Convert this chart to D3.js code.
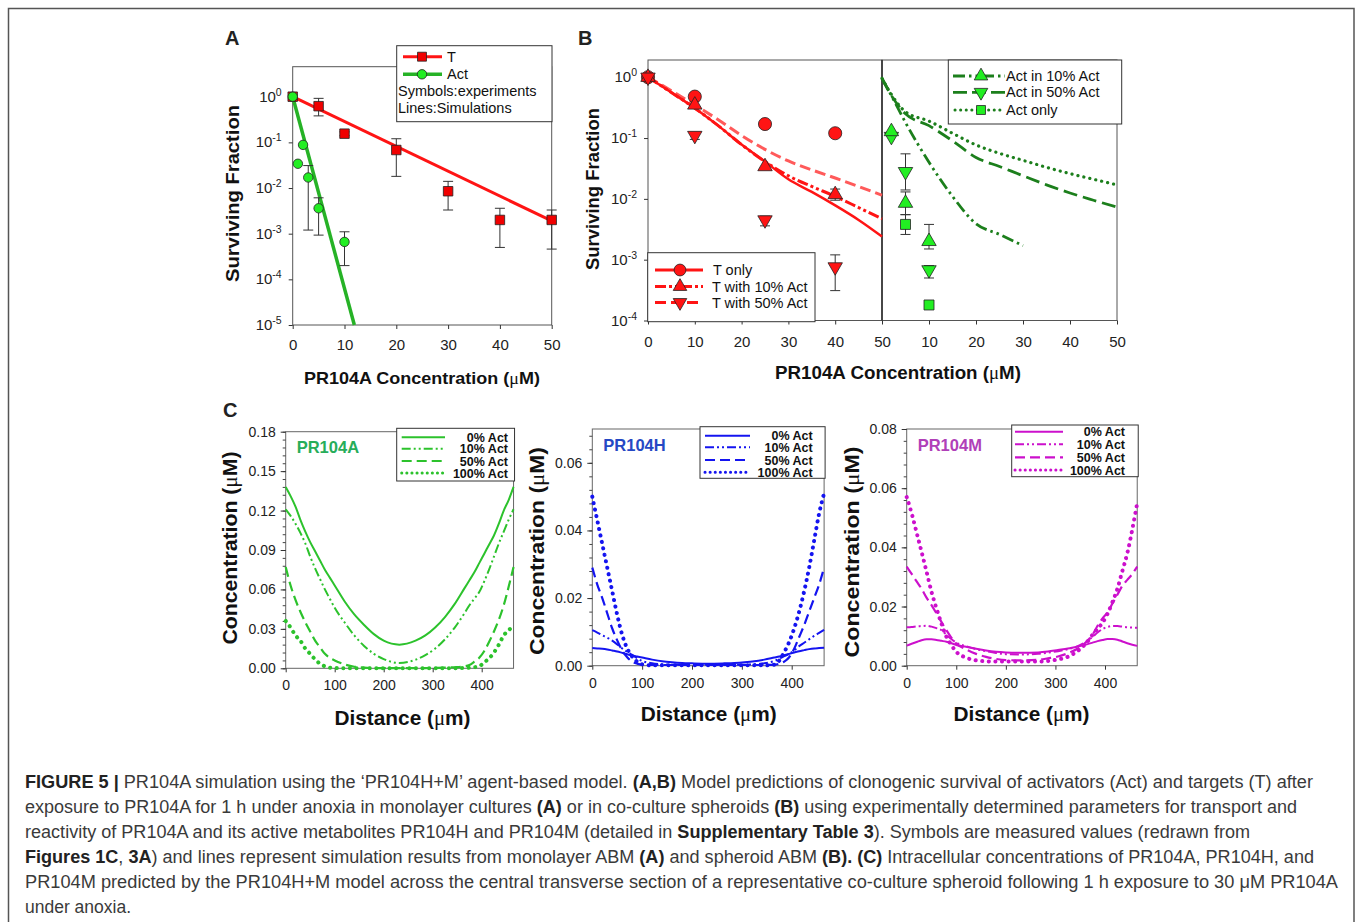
<!DOCTYPE html>
<html>
<head>
<meta charset="utf-8">
<script src="https://cdn.jsdelivr.net/npm/d3@7"></script>
<style>
  body { margin: 0; background: #fff; }
  text { font-family: Arial, "Liberation Sans", sans-serif; }
</style>
</head>
<body>
<svg id="fig" width="1357" height="922"></svg>
<script>
// ---- data: panel A (monolayer) ----
var aTDose = [0, 5, 10, 20, 30, 40, 50];
var aTSurv = [1, 0.62, 0.155, 0.068, 0.0085, 0.002, 0.002];
var aTLow = [null, 0.38, 0.14, 0.018, 0.0033, 0.0005, 0.00046];
var aTHigh = [null, 0.92, 0.17, 0.12, 0.014, 0.0036, 0.0033];
var aActDose = [0, 1, 2, 3, 5, 10];
var aActSurv = [1, 0.034, 0.088, 0.017, 0.0036, 0.00066];
var aActLow = [null, null, null, 0.0012, 0.00093, 0.0002];
var aActHigh = [null, null, null, 0.031, 0.0061, 0.0011];
var aSimTDose = [0, 50], aSimTSurv = [1, 0.0019];
var aSimActDose = [0, 11.9], aSimActSurv = [1, 1e-5];

// ---- data: panel B (spheroids), targets ----
var bDose = [0, 10, 25, 40];
var bTonly = [1, 0.48, 0.17, 0.12];
var bT10 = [1, 0.35, 0.034, 0.0118];
var bT10Low = [null, null, null, 0.0095];
var bT10High = [null, null, null, 0.0145];
var bT50 = [1, 0.11, 0.0045, 0.00076];
var bT50Low = [null, 0.095, 0.0036, 0.00031];
var bT50High = [null, 0.12, 0.0052, 0.0012];
var bSimDose = [0, 5, 10, 15, 20, 25, 30, 35, 40, 45, 50];
var bSimTonly = [1, 0.56, 0.31, 0.16, 0.078, 0.041, 0.021, 0.013, 0.0078, 0.0045, 0.0024];
var bSimT10 = [1, 0.56, 0.31, 0.16, 0.078, 0.041, 0.024, 0.016, 0.011, 0.0072, 0.0047];
var bSimT50 = [1, 0.6, 0.35, 0.2, 0.11, 0.065, 0.042, 0.03, 0.022, 0.016, 0.0115];

// ---- data: panel B, activators ----
var bActDose = [2, 5, 10];
var bAct10 = [0.128, 0.0085, 0.002];
var bAct10Low = [null, 0.0055, 0.0015];
var bAct10High = [null, 0.013, 0.0038];
var bAct50 = [0.106, 0.028, 0.00068];
var bAct50Low = [null, 0.014, 0.0005];
var bAct50High = [null, 0.055, 0.0008];
var bActOnlyDose = [5, 10];
var bActOnly = [0.0038, 0.00018];
var bActOnlyLow = [0.0026, null];
var bActOnlyHigh = [0.0055, null];
var bSimActDose = [0, 2, 5, 10, 15, 20, 25, 30, 35, 40, 45, 50];
var bSimAct10 = [0.96, 0.5, 0.18, 0.04, 0.011, 0.0039, 0.0026, 0.0017];
var bSimAct50 = [0.96, 0.5, 0.25, 0.16, 0.09, 0.048, 0.034, 0.024, 0.017, 0.0125, 0.0095, 0.0073];
var bSimActOnly = [0.96, 0.52, 0.27, 0.19, 0.12, 0.077, 0.056, 0.043, 0.033, 0.026, 0.021, 0.017];

// ---- data: panel C (concentration profiles) ----
var distC = [0, 10, 20, 30, 40, 50, 60, 70, 80, 90, 100, 120, 140, 160, 180, 200, 232,
             265, 285, 305, 325, 345, 365, 375, 385, 395, 405, 415, 425, 435, 445, 455, 465];
var cA0 = [0.138,0.131,0.123,0.113,0.104,0.096,0.089,0.082,0.075,0.069,0.063,0.051,0.041,0.033,0.026,0.021,0.018,
           0.021,0.025,0.031,0.039,0.049,0.061,0.067,0.073,0.080,0.087,0.094,0.101,0.110,0.120,0.128,0.138];
var cA10 = [0.121,0.116,0.110,0.103,0.095,0.085,0.076,0.068,0.060,0.053,0.046,0.035,0.025,0.017,0.011,0.007,0.004,
            0.0065,0.010,0.015,0.022,0.031,0.042,0.048,0.053,0.058,0.066,0.075,0.085,0.095,0.104,0.113,0.121];
var cA50 = [0.077,0.063,0.052,0.043,0.035,0.028,0.021,0.016,0.011,0.008,0.006,0.003,0.0012,0.0005,0.0002,0.0001,0.0001,
            0.0001,0.0002,0.0003,0.0005,0.0008,0.0015,0.0025,0.005,0.008,0.013,0.020,0.028,0.037,0.048,0.062,0.077];
var cA100 = [0.036,0.031,0.025,0.021,0.015,0.011,0.0068,0.0035,0.0015,0.0005,0.0002,0.0001,0.0001,0.0001,0.0001,0.0001,0.0001,
             0.0001,0.0001,0.0001,0.0001,0.0001,0.0002,0.0004,0.0008,0.0015,0.0045,0.0075,0.012,0.018,0.025,0.029,0.032];
var cH0 = [0.0052,0.0051,0.0050,0.0048,0.0045,0.0042,0.0038,0.0034,0.0030,0.0027,0.0024,0.0018,0.0013,0.0010,0.0008,0.0007,0.0006,
           0.0007,0.0008,0.0010,0.0013,0.0018,0.0024,0.0027,0.0031,0.0035,0.0039,0.0043,0.0046,0.0049,0.0051,0.0052,0.0053];
var cH10 = [0.0105,0.0098,0.0090,0.0083,0.0074,0.0063,0.0051,0.0041,0.0032,0.0022,0.0014,0.0007,0.0004,0.0003,0.0003,0.0003,0.0003,
            0.0003,0.0003,0.0003,0.0004,0.0007,0.0014,0.0020,0.0028,0.0035,0.0045,0.0058,0.0068,0.0078,0.0088,0.0097,0.0106];
var cH50 = [0.029,0.024,0.020,0.0155,0.011,0.0075,0.0045,0.0025,0.0012,0.0006,0.0003,0.0002,0.0002,0.0002,0.0002,0.0002,0.0002,
            0.0002,0.0002,0.0002,0.0002,0.0002,0.0003,0.0006,0.0012,0.0025,0.0050,0.0085,0.012,0.016,0.020,0.024,0.029];
var cH100 = [0.050,0.043,0.036,0.029,0.022,0.015,0.0091,0.0051,0.0027,0.0012,0.0004,0.0001,0.0001,0.0001,0.0001,0.0001,0.0001,
             0.0001,0.0001,0.0001,0.0001,0.0001,0.0003,0.0015,0.004,0.007,0.011,0.016,0.022,0.029,0.037,0.045,0.051];
var cM0 = [0.0068,0.0074,0.0080,0.0086,0.0089,0.0089,0.0087,0.0084,0.0081,0.0076,0.0070,0.0064,0.0057,0.0051,0.0047,0.0045,0.0044,
           0.0045,0.0048,0.0053,0.0058,0.0065,0.0073,0.0078,0.0083,0.0087,0.0090,0.0090,0.0088,0.0082,0.0076,0.0071,0.0067];
var cM10 = [0.0130,0.0131,0.0133,0.0134,0.0135,0.0132,0.0127,0.0120,0.0105,0.0090,0.0078,0.0066,0.0056,0.0049,0.0043,0.0039,0.0038,
            0.0040,0.0044,0.0049,0.0056,0.0066,0.0085,0.0097,0.0112,0.0124,0.0131,0.0134,0.0134,0.0132,0.0130,0.0129,0.0128];
var cM50 = [0.0335,0.031,0.0285,0.026,0.023,0.0205,0.0177,0.0148,0.012,0.0095,0.0075,0.0055,0.004,0.003,0.0023,0.0019,0.0018,
            0.002,0.0025,0.0031,0.0042,0.0058,0.0085,0.0105,0.0135,0.016,0.018,0.021,0.024,0.027,0.029,0.031,0.0335];
var cM100 = [0.057,0.0515,0.045,0.0385,0.0318,0.025,0.0194,0.0143,0.0098,0.007,0.0047,0.0027,0.0018,0.0015,0.0014,0.0014,0.0014,
             0.0014,0.0016,0.0021,0.003,0.005,0.0082,0.0105,0.0125,0.0145,0.0175,0.0215,0.026,0.032,0.038,0.046,0.055];

// ---- tick labels / legends ----
var logTicksA = [1, 1e-1, 1e-2, 1e-3, 1e-4, 1e-5];
var logTicksB = [1, 1e-1, 1e-2, 1e-3, 1e-4];
var doseTicks = [0, 10, 20, 30, 40, 50];
var doseTicksRight = [10, 20, 30, 40, 50];
var distTicks = [0, 100, 200, 300, 400];
var concTicksA = [0, 0.03, 0.06, 0.09, 0.12, 0.15, 0.18];
var concTicksH = [0, 0.02, 0.04, 0.06];
var concTicksM = [0, 0.02, 0.04, 0.06, 0.08];
var cLegend = ["0% Act", "10% Act", "50% Act", "100% Act"];

var svg = d3.select("#fig");

// outer figure border
svg.append("rect").attr("x", 8.5).attr("y", 8.5).attr("width", 1345.5).attr("height", 940)
  .attr("fill", "none").attr("stroke", "#555").attr("stroke-width", 1.5);

// ---------- helpers ----------
function frame(x0, y0, x1, y1, col) {
  svg.append("rect").attr("x", x0).attr("y", y0).attr("width", x1 - x0).attr("height", y1 - y0)
    .attr("fill", "none").attr("stroke", col || "#555").attr("stroke-width", 1);
}

function drawLine(xs, ys, x, y, s) {
  svg.append("path")
    .datum(d3.zip(xs, ys))
    .attr("d", d3.line().x(function(d) { return x(d[0]); }).y(function(d) { return y(d[1]); })
      .curve(d3.curveMonotoneX))
    .attr("fill", "none")
    .attr("stroke", s.color)
    .attr("stroke-width", s.width)
    .attr("stroke-dasharray", s.dash || null)
    .attr("stroke-linecap", s.cap || "butt");
}

function drawErr(xs, ys, lo, hi, x, y) {
  xs.forEach(function(xv, i) {
    if (lo[i] == null && hi[i] == null) return;
    var l = lo[i] == null ? ys[i] : lo[i];
    var h = hi[i] == null ? ys[i] : hi[i];
    var px = x(xv);
    var g = svg.append("g").attr("stroke", "#333").attr("stroke-width", 1);
    g.append("line").attr("x1", px).attr("x2", px).attr("y1", y(l)).attr("y2", y(h));
    if (lo[i] != null) g.append("line").attr("x1", px - 5).attr("x2", px + 5).attr("y1", y(l)).attr("y2", y(l));
    if (hi[i] != null) g.append("line").attr("x1", px - 5).attr("x2", px + 5).attr("y1", y(h)).attr("y2", y(h));
  });
}

function drawMarkers(xs, ys, x, y, type, size, fill, flip) {
  svg.append("g").selectAll("path")
    .data(d3.zip(xs, ys))
    .enter().append("path")
    .attr("d", d3.symbol().type(type).size(size))
    .attr("transform", function(d) {
      return "translate(" + x(d[0]) + "," + y(d[1]) + ")" + (flip ? " rotate(180)" : "");
    })
    .attr("fill", fill)
    .attr("stroke", "#222")
    .attr("stroke-width", 0.8);
}

function xAxis(x, yPos, vals, pad, size) {
  var g = svg.append("g")
    .attr("transform", "translate(0," + yPos + ")")
    .call(d3.axisBottom(x).tickValues(vals).tickSize(4).tickPadding(pad).tickFormat(d3.format("d")));
  g.select(".domain").remove();
  g.selectAll("line").attr("stroke", "#333");
  g.selectAll("text").attr("font-size", size).attr("fill", "#222").attr("font-family", "Arial, 'Liberation Sans'");
}

function yLogAxis(y, xPos, vals) {
  var g = svg.append("g")
    .attr("transform", "translate(" + xPos + ",0)")
    .call(d3.axisLeft(y).tickValues(vals).tickSize(4).tickFormat(""));
  g.select(".domain").remove();
  g.selectAll("line").attr("stroke", "#333");
  vals.forEach(function(v) {
    var t = svg.append("text").attr("x", xPos - 11).attr("y", y(v) + 5)
      .attr("text-anchor", "end").attr("font-size", 15).attr("fill", "#222");
    t.append("tspan").text("10");
    t.append("tspan").attr("dy", -6).attr("font-size", 10.5).text(Math.round(Math.log10(v)));
  });
}

function yLinAxis(y, xPos, majors, minorStep, fmt) {
  var dom = y.domain();
  var minors = d3.range(0, dom[1] + 1e-9, minorStep);
  var gm = svg.append("g").attr("transform", "translate(" + xPos + ",0)")
    .call(d3.axisLeft(y).tickValues(minors).tickSize(3).tickFormat(""));
  gm.select(".domain").remove();
  gm.selectAll("line").attr("stroke", "#444");
  var g = svg.append("g").attr("transform", "translate(" + xPos + ",0)")
    .call(d3.axisLeft(y).tickValues(majors).tickSize(5).tickPadding(5).tickFormat(fmt));
  g.select(".domain").remove();
  g.selectAll("line").attr("stroke", "#333");
  g.selectAll("text").attr("font-size", 14).attr("fill", "#222").attr("font-family", "Arial, 'Liberation Sans'");
}

function boldText(x, y, str, size, len, rot) {
  var t = svg.append("text")
    .attr("text-anchor", "middle")
    .attr("font-weight", "bold")
    .attr("font-size", size)
    .attr("fill", "#111");
  if (rot) t.attr("transform", "translate(" + x + "," + y + ") rotate(-90)");
  else t.attr("x", x).attr("y", y);
  var parts = str.split("μ");
  t.append("tspan").text(parts[0]);
  if (parts.length > 1) {
    t.append("tspan").attr("font-family", "'Liberation Serif', 'DejaVu Serif', serif").attr("font-weight", "normal").text("μ");
    t.append("tspan").text(parts[1]);
  }
  if (len) t.attr("textLength", len).attr("lengthAdjust", "spacingAndGlyphs");
  return t;
}

function legendBox(x0, y0, x1, y1) {
  svg.append("rect").attr("x", x0).attr("y", y0).attr("width", x1 - x0).attr("height", y1 - y0)
    .attr("fill", "#fff").attr("stroke", "#333").attr("stroke-width", 1);
}

function legendSample(x0, x1, yv, s) {
  svg.append("line").attr("x1", x0).attr("x2", x1).attr("y1", yv).attr("y2", yv)
    .attr("stroke", s.color).attr("stroke-width", s.width)
    .attr("stroke-dasharray", s.dash || null).attr("stroke-linecap", s.cap || "butt");
}

function legendMarker(xv, yv, type, size, fill, flip) {
  svg.append("path").attr("d", d3.symbol().type(type).size(size))
    .attr("transform", "translate(" + xv + "," + yv + ")" + (flip ? " rotate(180)" : ""))
    .attr("fill", fill).attr("stroke", "#222").attr("stroke-width", 0.8);
}

function plainText(x, y, str, size, anchor, weight, fill) {
  return svg.append("text").attr("x", x).attr("y", y).attr("font-size", size)
    .attr("text-anchor", anchor || "start").attr("font-weight", weight || "normal")
    .attr("fill", fill || "#111").text(str);
}

var RED = "#ff1414", RED_LIGHT = "#ff5a5a", LIME = "#22ee22", DKGREEN = "#1c7f1c";

// ================= Panel A =================
var xA = d3.scaleLinear().domain([0, 50]).range([292.7, 551.7]);
var yA = d3.scaleLog().domain([1e-5, 4.54]).range([325, 66.7]);

frame(292.7, 66.7, 551.7, 325);
xAxis(xA, 325, doseTicks, 10, 15);
yLogAxis(yA, 292.7, logTicksA);

drawLine(aSimTDose, aSimTSurv, xA, yA, {color: RED, width: 3});
drawLine(aSimActDose, aSimActSurv, xA, yA, {color: "#26b226", width: 3.5});
drawErr(aTDose, aTSurv, aTLow, aTHigh, xA, yA);
drawErr(aActDose, aActSurv, aActLow, aActHigh, xA, yA);
drawMarkers(aTDose, aTSurv, xA, yA, d3.symbolSquare, 90, "#f00000");
drawMarkers(aActDose, aActSurv, xA, yA, d3.symbolCircle, 70, LIME);

legendBox(396.7, 45.7, 552, 121.7);
legendSample(403, 442, 56.7, {color: RED, width: 3});
legendMarker(422, 56.7, d3.symbolSquare, 80, "#f00000");
legendSample(403, 442, 74.3, {color: "#26b226", width: 3.5});
legendMarker(422, 74.3, d3.symbolCircle, 70, LIME);
plainText(447, 61.5, "T", 14.5);
plainText(447, 79, "Act", 14.5);
plainText(398, 96, "Symbols:experiments", 14.5);
plainText(398, 113, "Lines:Simulations", 14.5);

boldText(231.7, 193.5, "Surviving Fraction", 19, 177, true).attr("dy", 7);
boldText(422, 384, "PR104A Concentration (μM)", 17, 236);
plainText(225, 45, "A", 20, "start", "bold", "#222");

// ================= Panel B =================
var xBL = d3.scaleLinear().domain([0, 50]).range([648, 882]);
var xBR = d3.scaleLinear().domain([0, 50]).range([882, 1117]);
var yB = d3.scaleLog().domain([1e-4, 1.92]).range([320.5, 60]);

frame(648, 60, 882, 320.5);
frame(882, 60, 1117, 320.5);
svg.append("line").attr("x1", 882).attr("x2", 882).attr("y1", 60).attr("y2", 320.5)
  .attr("stroke", "#222").attr("stroke-width", 1.2);
xAxis(xBL, 320.5, doseTicks, 12, 15);
xAxis(xBR, 320.5, doseTicksRight, 12, 15);
yLogAxis(yB, 648, logTicksB);

// targets (left half)
drawLine(bSimDose, bSimT50, xBL, yB, {color: RED_LIGHT, width: 3, dash: "11,5"});
drawLine(bSimDose, bSimT10, xBL, yB, {color: RED, width: 3, dash: "11,3,3,3,3,3"});
drawLine(bSimDose, bSimTonly, xBL, yB, {color: RED, width: 2.5});
drawErr(bDose, bT10, bT10Low, bT10High, xBL, yB);
drawErr(bDose, bT50, bT50Low, bT50High, xBL, yB);
drawMarkers(bDose, bTonly, xBL, yB, d3.symbolCircle, 135, RED);
drawMarkers(bDose, bT10, xBL, yB, d3.symbolTriangle, 90, RED);
drawMarkers(bDose, bT50, xBL, yB, d3.symbolTriangle, 90, RED, true);

// activators (right half)
drawLine(bSimActDose, bSimActOnly, xBR, yB, {color: DKGREEN, width: 3.2, dash: "0.1,6", cap: "round"});
drawLine(bSimActDose, bSimAct50, xBR, yB, {color: DKGREEN, width: 2.8, dash: "14,6"});
drawLine(bSimActDose.slice(0, bSimAct10.length), bSimAct10, xBR, yB, {color: DKGREEN, width: 2.8, dash: "12,4,2.5,4,2.5,4"});
drawErr(bActDose, bAct10, bAct10Low, bAct10High, xBR, yB);
drawErr(bActDose, bAct50, bAct50Low, bAct50High, xBR, yB);
drawErr(bActOnlyDose, bActOnly, bActOnlyLow, bActOnlyHigh, xBR, yB);
drawMarkers(bActDose, bAct50, xBR, yB, d3.symbolTriangle, 90, LIME, true);
drawMarkers(bActDose, bAct10, xBR, yB, d3.symbolTriangle, 90, LIME);
drawMarkers(bActOnlyDose, bActOnly, xBR, yB, d3.symbolSquare, 100, LIME);

// legends B
legendBox(647.7, 252.7, 815, 321.7);
legendSample(655, 703, 270, {color: RED, width: 3});
legendMarker(680, 270, d3.symbolCircle, 110, RED);
legendSample(655, 703, 286.5, {color: RED, width: 3, dash: "11,3,3,3,3,3"});
legendMarker(680, 286.5, d3.symbolTriangle, 80, RED);
legendSample(655, 703, 302.5, {color: RED, width: 3, dash: "11,5"});
legendMarker(680, 302.5, d3.symbolTriangle, 80, RED, true);
plainText(713, 275, "T only", 14.5);
plainText(712, 291.5, "T with 10% Act", 14.5);
plainText(712, 307.5, "T with 50% Act", 14.5);

legendBox(948.3, 60, 1121.7, 124);
legendSample(953, 1005, 76, {color: DKGREEN, width: 2.8, dash: "12,4,2.5,4,2.5,4"});
legendMarker(981, 76, d3.symbolTriangle, 80, LIME);
legendSample(953, 1005, 92.3, {color: DKGREEN, width: 2.8, dash: "14,5"});
legendMarker(981, 92.3, d3.symbolTriangle, 80, LIME, true);
legendSample(955, 1005, 110, {color: DKGREEN, width: 3, dash: "0.1,5.5", cap: "round"});
legendMarker(981, 110, d3.symbolSquare, 80, LIME);
plainText(1006, 81, "Act in 10% Act", 14.5);
plainText(1006, 97.3, "Act in 50% Act", 14.5);
plainText(1006, 115, "Act only", 14.5);

boldText(591.7, 189, "Surviving Fraction", 19, 162, true).attr("dy", 7);
boldText(898, 379, "PR104A Concentration (μM)", 18, 246);
plainText(578, 45, "B", 20, "start", "bold", "#222");

// ================= Panel C =================
var cStyles = [
  {width: 2},
  {width: 2, dash: "9,3,2,3,2,3"},
  {width: 2.2, dash: "10,5"},
  {width: 4, dash: "0.1,6.5", cap: "round"}
];

function cPanel(opt) {
  var x = d3.scaleLinear().domain([0, 400]).range([opt.x0, opt.x400]);
  var y = d3.scaleLinear().domain([0, opt.ymax]).range([opt.yb, opt.yt]);
  var xr = x(465);
  frame(opt.x0, opt.yt, xr, opt.yb, "#666");
  xAxis(x, opt.yb, distTicks, 8, 14);
  yLinAxis(y, opt.x0, opt.majors, opt.minor, d3.format(".2f"));
  opt.series.forEach(function(ys, i) {
    var s = Object.assign({color: opt.color}, cStyles[i]);
    drawLine(distC, ys, x, y, s);
  });
  // legend
  var lg = opt.legend;
  legendBox(lg.x0, lg.y0, xr + 1, lg.y1);
  cLegend.forEach(function(lab, i) {
    var s = Object.assign({color: opt.color}, cStyles[i]);
    if (i == 3) s = Object.assign({}, s, {width: 3, dash: "0.1,5"});
    legendSample(lg.sx0, lg.sx1, lg.rows[i], s);
    plainText(lg.tx, lg.rows[i] + 4.5, lab, 12.5, "end", "bold", "#111");
  });
  plainText(opt.x0 + 11, opt.titleY, opt.title, 16.5, "start", "bold", opt.titleColor);
  boldText(opt.ytX, opt.ytY, "Concentration (μM)", 20, opt.ytLen, true).attr("dy", 7);
  boldText(opt.xtX, opt.xtY, "Distance (μm)", 20, 136);
}

cPanel({
  x0: 285.7, x400: 481.7, yb: 668.3, yt: 431.7, ymax: 0.18,
  majors: concTicksA, minor: 0.006, color: "#2cc22c",
  series: [cA0, cA10, cA50, cA100],
  legend: {x0: 396.7, y0: 428.3, y1: 481, sx0: 401.7, sx1: 445, tx: 508, rows: [437.3, 448.8, 461, 473]},
  title: "PR104A", titleY: 453, titleColor: "#27ad5a",
  ytX: 230, ytY: 548, ytLen: 193, xtX: 402.5, xtY: 725
});
cPanel({
  x0: 592.3, x400: 791.7, yb: 665.7, yt: 429, ymax: 0.07,
  majors: concTicksH, minor: 0.004, color: "#1414f0",
  series: [cH0, cH10, cH50, cH100],
  legend: {x0: 700, y0: 426.7, y1: 478.3, sx0: 705, sx1: 750, tx: 812.7, rows: [435.7, 447.3, 460, 472.3]},
  title: "PR104H", titleY: 451, titleColor: "#2548c4",
  ytX: 536.7, ytY: 551, ytLen: 208, xtX: 708.7, xtY: 721
});
cPanel({
  x0: 906.7, x400: 1105, yb: 665.7, yt: 429, ymax: 0.08,
  majors: concTicksM, minor: 0.004, color: "#cc10cc",
  series: [cM0, cM10, cM50, cM100],
  legend: {x0: 1011.7, y0: 425, y1: 476.7, sx0: 1015, sx1: 1063, tx: 1125, rows: [431.7, 444.3, 457.3, 470]},
  title: "PR104M", titleY: 451, titleColor: "#b040b8",
  ytX: 851.7, ytY: 552, ytLen: 211, xtX: 1021.5, xtY: 721
});
plainText(223, 417, "C", 20, "start", "bold", "#222");

// ================= Caption =================
var captionLines = [
  {len: 1288, parts: [["FIGURE 5 |", 1], [" PR104A simulation using the \u2018PR104H+M\u2019 agent-based model. ", 0], ["(A,B)", 1],
    [" Model predictions of clonogenic survival of activators (Act) and targets (T) after", 0]]},
  {len: 1272, parts: [["exposure to PR104A for 1 h under anoxia in monolayer cultures ", 0], ["(A)", 1],
    [" or in co-culture spheroids ", 0], ["(B)", 1], [" using experimentally determined parameters for transport and", 0]]},
  {len: 1225, parts: [["reactivity of PR104A and its active metabolites PR104H and PR104M (detailed in ", 0],
    ["Supplementary Table 3", 1], ["). Symbols are measured values (redrawn from", 0]]},
  {len: 1289, parts: [["Figures 1C", 1], [", ", 0], ["3A", 1], [") and lines represent simulation results from monolayer ABM ", 0],
    ["(A)", 1], [" and spheroid ABM ", 0], ["(B).", 1], [" ", 0], ["(C)", 1], [" Intracellular concentrations of PR104A, PR104H, and", 0]]},
  {len: 1313, parts: [["PR104M predicted by the PR104H+M model across the central transverse section of a representative co-culture spheroid following 1 h exposure to 30 \u03bcM PR104A", 0]]},
  {len: null, parts: [["under anoxia.", 0]]}
];
captionLines.forEach(function(line, i) {
  var t = svg.append("text").attr("x", 25).attr("y", 788 + i * 25)
    .attr("font-size", 17.5).attr("fill", "#3a3a3a")
    .style("font-family", "'Liberation Sans Narrow', 'Liberation Sans', Arial, sans-serif");
  line.parts.forEach(function(p) {
    t.append("tspan").attr("font-weight", p[1] ? "bold" : "normal").attr("fill", p[1] ? "#222" : "#3a3a3a").text(p[0]);
  });
  if (line.len) t.attr("textLength", line.len).attr("lengthAdjust", "spacingAndGlyphs");
});
</script>
</body>
</html>
